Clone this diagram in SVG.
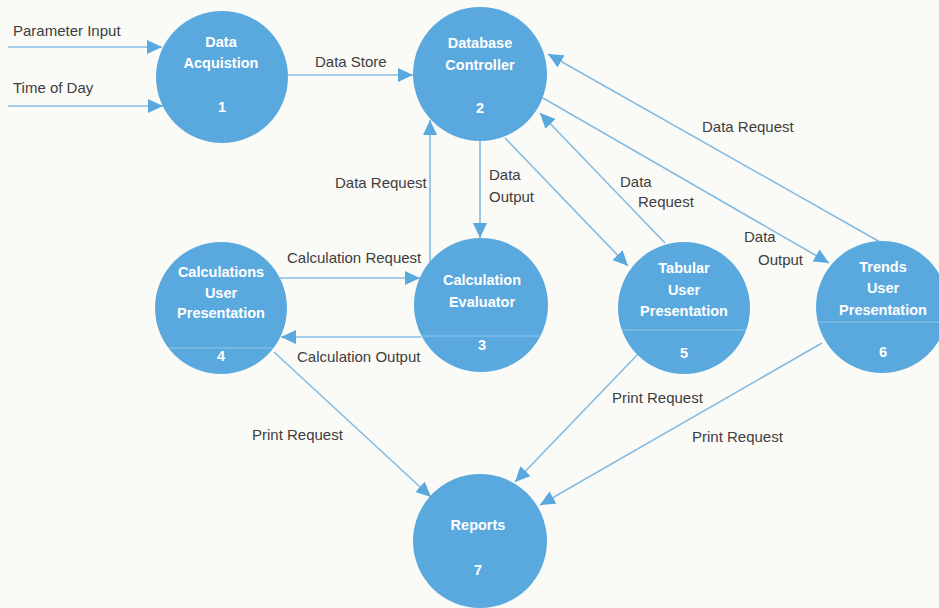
<svg xmlns="http://www.w3.org/2000/svg" width="939" height="608" viewBox="0 0 939 608">
<defs>
<marker id="arr" markerUnits="userSpaceOnUse" markerWidth="16" markerHeight="14" refX="15" refY="7" orient="auto">
<path d="M0,0 L15,7 L0,14 z" fill="#5aa9de"/>
</marker>
</defs>
<style>
.bg{fill:#fafaf7}
.node{fill:#5aa9de}
.div{stroke:#8ec5ea;stroke-width:1.2}
.nt{font-family:"Liberation Sans",Arial,sans-serif;font-weight:bold;font-size:14.5px;fill:#ffffff;text-anchor:middle}
.el{font-family:"Liberation Sans",Arial,sans-serif;font-size:15px;fill:#3e3e3e}
.c{fill:none;stroke:#84bce2;stroke-width:1.6;marker-end:url(#arr)}
</style>
<rect class="bg" x="0" y="0" width="939" height="608"/>

<g id="connectors">
<path class="c" d="M8 47 L162 47"/>
<path class="c" d="M8 106 L163 106"/>
<path class="c" d="M288 75 L413 75"/>
<path class="c" d="M430 262 L430 120"/>
<path class="c" d="M480 141 L480 238"/>
<path class="c" d="M505 138 L628 266"/>
<path class="c" d="M665 243 L540 113"/>
<path class="c" d="M543 98 L829 263"/>
<path class="c" d="M880 242 L548 54"/>
<path class="c" d="M280 278 L420 278"/>
<path class="c" d="M421 337 L281 337"/>
<path class="c" d="M274 352 L431 497"/>
<path class="c" d="M640 352 L515 482"/>
<path class="c" d="M822 343 L540 505"/>
</g>

<g id="edge-labels">
<text class="el" x="13" y="36">Parameter Input</text>
<text class="el" x="13" y="93">Time of Day</text>
<text class="el" x="315" y="67">Data Store</text>
<text class="el" x="335" y="188">Data Request</text>
<text class="el" x="489" y="180">Data</text>
<text class="el" x="489" y="202">Output</text>
<text class="el" x="702" y="132">Data Request</text>
<text class="el" x="620" y="187">Data</text>
<text class="el" x="638" y="207">Request</text>
<text class="el" x="744" y="242">Data</text>
<text class="el" x="758" y="265">Output</text>
<text class="el" x="287" y="263">Calculation Request</text>
<text class="el" x="297" y="362">Calculation Output</text>
<text class="el" x="252" y="440">Print Request</text>
<text class="el" x="612" y="403">Print Request</text>
<text class="el" x="692" y="442">Print Request</text>
</g>

<g id="node1">
<circle class="node" cx="222" cy="77" r="66"/>
<text class="nt" x="221" y="47">Data</text>
<text class="nt" x="221" y="68">Acquistion</text>
<text class="nt" x="222" y="112">1</text>
</g>

<g id="node2">
<circle class="node" cx="480" cy="74" r="67"/>
<text class="nt" x="480" y="48">Database</text>
<text class="nt" x="480" y="70">Controller</text>
<text class="nt" x="480" y="113">2</text>
</g>

<g id="node3">
<circle class="node" cx="481" cy="305" r="67"/>
<line class="div" x1="422" y1="336" x2="540" y2="336"/>
<text class="nt" x="482" y="285">Calculation</text>
<text class="nt" x="482" y="307">Evaluator</text>
<text class="nt" x="482" y="350">3</text>
</g>

<g id="node4">
<circle class="node" cx="221" cy="308" r="66"/>
<line class="div" x1="169" y1="348" x2="273" y2="348"/>
<text class="nt" x="221" y="277">Calculations</text>
<text class="nt" x="221" y="298">User</text>
<text class="nt" x="221" y="318">Presentation</text>
<text class="nt" x="221" y="361">4</text>
</g>

<g id="node5">
<circle class="node" cx="684" cy="308" r="66"/>
<line class="div" x1="622" y1="330" x2="746" y2="330"/>
<text class="nt" x="684" y="273">Tabular</text>
<text class="nt" x="684" y="295">User</text>
<text class="nt" x="684" y="316">Presentation</text>
<text class="nt" x="684" y="358">5</text>
</g>

<g id="node6">
<circle class="node" cx="882" cy="307" r="66"/>
<line class="div" x1="818" y1="322" x2="946" y2="322"/>
<text class="nt" x="883" y="272">Trends</text>
<text class="nt" x="883" y="293">User</text>
<text class="nt" x="883" y="315">Presentation</text>
<text class="nt" x="883" y="357">6</text>
</g>

<g id="node7">
<circle class="node" cx="480" cy="541" r="67"/>
<text class="nt" x="478" y="530">Reports</text>
<text class="nt" x="478" y="575">7</text>
</g>
</svg>
